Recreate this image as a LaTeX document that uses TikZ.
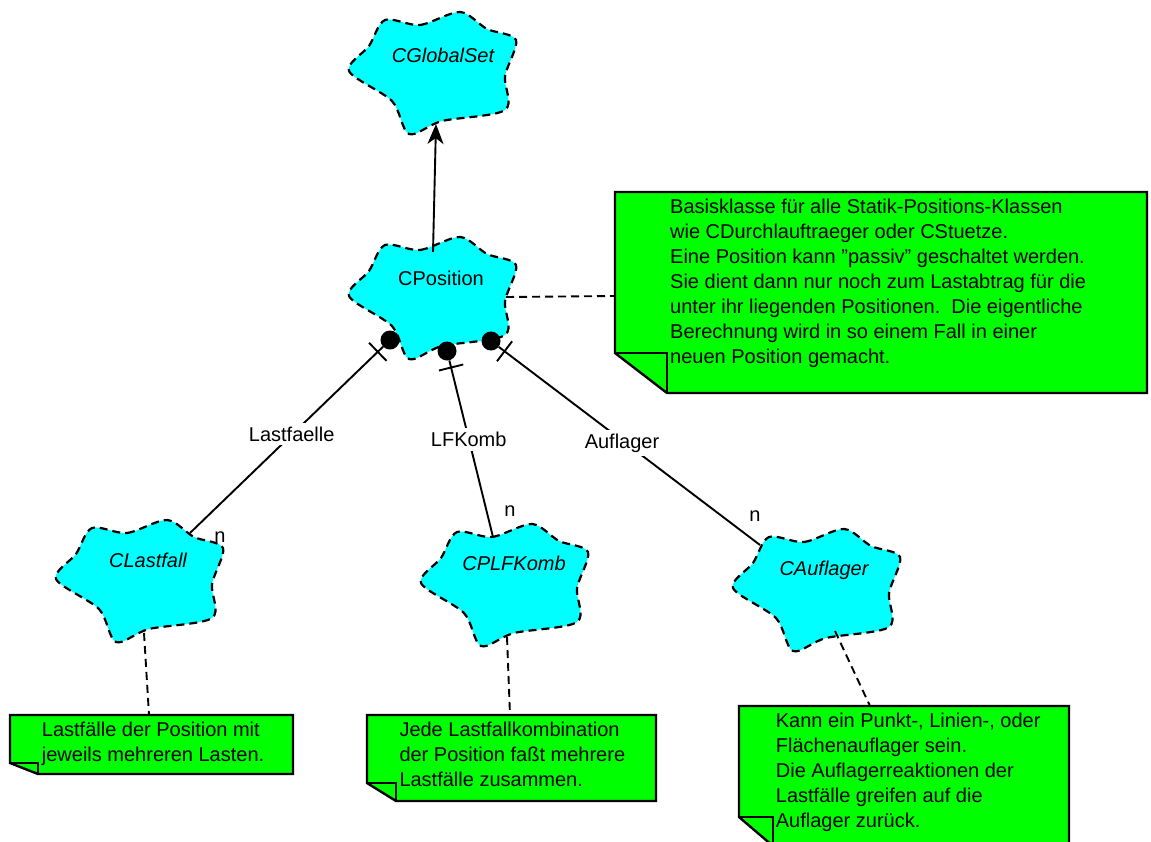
\documentclass[tikz,border=0pt]{standalone}
\usepackage{fontspec}
\setmainfont{Liberation Sans}
\usetikzlibrary{arrows.meta,calc}
\definecolor{cloudcyan}{HTML}{00FFFF}
\definecolor{notegreen}{HTML}{00FF00}
\tikzset{
  cloudline/.style={draw=black, fill=cloudcyan, line width=2.2pt, dash pattern=on 8pt off 5pt},
  cloudlabel/.style={inner sep=0pt, text height=14.3pt, text depth=0pt, font=\fontsize{20}{25}\selectfont\itshape},
  cloudlabelup/.style={cloudlabel, font=\fontsize{20}{25}\selectfont\upshape},
  noteshape/.style={draw=black, fill=notegreen, line width=2.4pt, line join=miter},
  notefold/.style={draw=black, line width=2.4pt},
  notetext/.style={anchor=base west, inner sep=0pt, font=\fontsize{20}{25}\selectfont},
  assoc/.style={line width=1.9pt},
  notelink/.style={line width=1.9pt, dash pattern=on 8pt off 5pt},
  rolelabel/.style={anchor=base, fill=white, inner xsep=2pt, inner ysep=4pt, font=\fontsize{20}{25}\selectfont},
  multlabel/.style={anchor=base, inner sep=0pt, font=\fontsize{20}{25}\selectfont},
  aggdot/.style={circle, fill=black, inner sep=0pt, minimum size=19pt},
}
\newcommand\cloudat[2]{\path[cloudline, shift={(#1,-#2)}]
  plot[smooth cycle, tension=0.5] coordinates {
  (-47,53) (-12,48) (28,61) (55,44) (84,33) (73,-3)
  (73,-37) (10,-48) (-23,-61) (-40,-28) (-83,2) (-63,27)};}
\newcommand\noteat[6]{%
  \path[noteshape] (#1,-#2) -- (#3,-#2) -- (#3,-#4) -- (#5,-#4) -- (#1,-#6) -- cycle;
  \path[notefold] (#1,-#6) -- (#5,-#6) -- (#5,-#4);}
\begin{document}
\begin{tikzpicture}[x=1pt,y=1pt]
\useasboundingbox (0,0) rectangle (1151,-841);
\clip (0,0) rectangle (1151,-841);

% clouds
\cloudat{432}{73}
\cloudat{432}{298}
\cloudat{139}{581}
\cloudat{504}{585}
\cloudat{816}{590}

\node[cloudlabel]   (gs) at (443,-55)  {CGlobalSet};
\node[cloudlabelup] (pos) at (441,-278) {CPosition};
\node[cloudlabel]   (lf) at (148,-560) {CLastfall};
\node[cloudlabel]   (kb) at (514,-563) {CPLFKomb};
\node[cloudlabel]   (au) at (824,-568) {CAuflager};

% connector end points on cloud borders
\coordinate (pos-top) at (433,-252);
\coordinate (gs-bot) at (436,-124);
\coordinate (lf-top) at (190,-533);
\coordinate (kb-top) at (493,-537);
\coordinate (au-top) at (760,-545);
\coordinate (pos-r) at (506,-297);
\coordinate (lf-b) at (144,-633);
\coordinate (kb-b) at (507,-637);
\coordinate (au-b) at (835,-631);
\coordinate (bn-l) at (615,-296);
\coordinate (n1-t) at (149,-715);
\coordinate (n2-t) at (510,-715);
\coordinate (n3-t) at (870,-706);

% generalisation arrow
\draw[assoc, -{Stealth[length=20pt,width=16pt,inset=6pt]}] (pos-top) -- (gs-bot);

% aggregation dots
\node[aggdot] (d1) at (390,-340) {};
\node[aggdot] (d2) at (447,-351) {};
\node[aggdot] (d3) at (491,-341) {};

% associations
\draw[assoc] (d1) -- (lf-top);
\draw[assoc] (d2) -- (kb-top);
\draw[assoc] (d3) -- (au-top);
\draw[assoc] ($(d1)!17pt!(lf-top)!12.5pt!90:(lf-top)$) -- ($(d1)!17pt!(lf-top)!12.5pt!-90:(lf-top)$);
\draw[assoc] ($(d2)!17pt!(kb-top)!12.5pt!90:(kb-top)$) -- ($(d2)!17pt!(kb-top)!12.5pt!-90:(kb-top)$);
\draw[assoc] ($(d3)!17pt!(au-top)!12.5pt!90:(au-top)$) -- ($(d3)!17pt!(au-top)!12.5pt!-90:(au-top)$);

\node[rolelabel] (r1) at (291.7,-441) {Lastfaelle};
\node[rolelabel] (r2) at (468.7,-446.7) {LFKomb};
\node[rolelabel] (r3) at (622,-448) {Auflager};

\node[multlabel] (m1) at (220,-542) {n};
\node[multlabel] (m2) at (510,-516.7) {n};
\node[multlabel] (m3) at (755,-521) {n};

% note links
\draw[notelink] (pos-r) -- (bn-l);
\draw[notelink] (lf-b) -- (n1-t);
\draw[notelink] (kb-b) -- (n2-t);
\draw[notelink] (au-b) -- (n3-t);

% notes
\noteat{615}{192}{1147}{393}{667}{353}
\noteat{10}{715}{293}{774}{38}{763}
\noteat{367}{715}{656}{801}{396}{783}
\noteat{739}{706}{1069}{846}{773}{817}

\node[notetext] (t0) at (670,-213.3) {\begin{tabular}[t]{@{}l@{}}
Basisklasse für alle Statik-Positions-Klassen\\
wie CDurchlauftraeger oder CStuetze.\\
Eine Position kann \symbol{"22}passiv\symbol{"22} geschaltet werden.\\
Sie dient dann nur noch zum Lastabtrag für die\\
unter ihr liegenden Positionen.\ \ Die eigentliche\\
Berechnung wird in so einem Fall in einer\\
neuen Position gemacht.\end{tabular}};
\node[notetext] (t1) at (41.7,-736.7) {\begin{tabular}[t]{@{}l@{}}
Lastfälle der Position mit\\
jeweils mehreren Lasten.\end{tabular}};
\node[notetext] (t2) at (399.3,-736.7) {\begin{tabular}[t]{@{}l@{}}
Jede Lastfallkombination\\
der Position faßt mehrere\\
Lastfälle zusammen.\end{tabular}};
\node[notetext] (t3) at (775.7,-727.3) {\begin{tabular}[t]{@{}l@{}}
Kann ein Punkt-, Linien-, oder\\
Flächenauflager sein.\\
Die Auflagerreaktionen der\\
Lastfälle greifen auf die\\
Auflager zurück.\end{tabular}};
\end{tikzpicture}
\end{document}
